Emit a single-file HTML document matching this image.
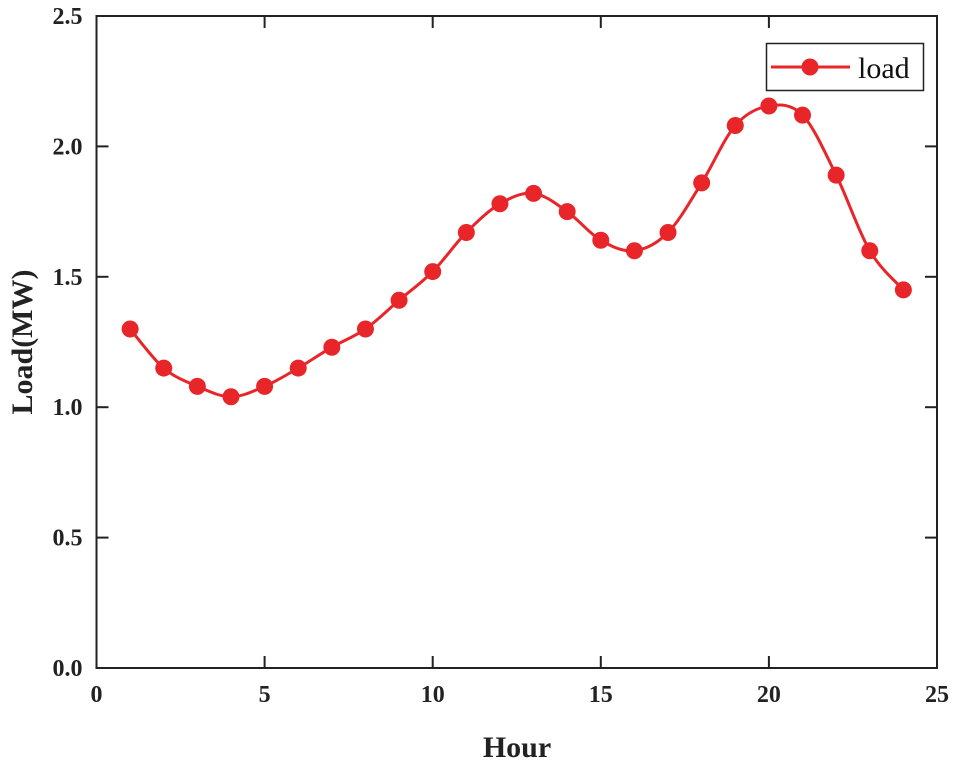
<!DOCTYPE html>
<html><head><meta charset="utf-8"><style>
html,body{margin:0;padding:0;background:#fff;}
svg text{font-family:"Liberation Serif",serif;}
</style></head><body>
<svg width="955" height="771" viewBox="0 0 955 771" xmlns="http://www.w3.org/2000/svg">
<g id="axes"></g>
<g id="series"></g>
<g>
<rect x="766.5" y="43.5" width="157" height="47" fill="#fff" stroke="#222" stroke-width="1.5"/>
<line x1="771" y1="67" x2="850" y2="67" stroke="#e8262a" stroke-width="3"/>
<circle cx="810" cy="67" r="8.5" fill="#e8262a"/>
<text x="858" y="78" font-size="30" fill="#111">load</text>
</g>
<text x="517" y="757" font-size="30" font-weight="bold" text-anchor="middle" fill="#222">Hour</text>
<text transform="translate(32,342) rotate(-90)" font-size="30" font-weight="bold" text-anchor="middle" fill="#222">Load(MW)</text>
</svg>
<script>
const hours=[1,2,3,4,5,6,7,8,9,10,11,12,13,14,15,16,17,18,19,20,21,22,23,24];
const loads=[1.30,1.15,1.08,1.04,1.08,1.15,1.23,1.30,1.41,1.52,1.67,1.78,1.82,1.75,1.64,1.60,1.67,1.86,2.08,2.155,2.12,1.89,1.60,1.45];
const xTicks=[0,5,10,15,20,25];
const yTicks=["0.0","0.5","1.0","1.5","2.0","2.5"];
const L=96.5,R=937,T=16,B=668;
const xs=v=>L+(v-0)/(25-0)*(R-L);
const ys=v=>B-(v-0)/(2.5-0)*(B-T);
const NS="http://www.w3.org/2000/svg";
function mk(tag,attrs,parent){const e=document.createElementNS(NS,tag);for(const k in attrs)e.setAttribute(k,attrs[k]);parent.appendChild(e);return e;}
const ax=document.getElementById('axes');
const frame=mk('rect',{x:L,y:T,width:R-L,height:B-T,fill:'none',stroke:'#222','stroke-width':2},ax);


xTicks.forEach(t=>{
  const x=xs(t);
  const l1=mk('line',{x1:x,y1:B,x2:x,y2:B-12,stroke:'#222','stroke-width':2},ax);
  
  
  const l2=mk('line',{x1:x,y1:T,x2:x,y2:T+12,stroke:'#222','stroke-width':2},ax);
  
  
  const tx=mk('text',{x:x,y:B+34,'font-size':24,'font-weight':'bold','text-anchor':'middle',fill:'#222'},ax);
  tx.textContent=t;
  
  
});
yTicks.forEach(t=>{
  const y=ys(parseFloat(t));
  const l1=mk('line',{x1:L,y1:y,x2:L+12,y2:y,stroke:'#222','stroke-width':2},ax);
  
  
  const l2=mk('line',{x1:R,y1:y,x2:R-12,y2:y,stroke:'#222','stroke-width':2},ax);
  
  
  const tx=mk('text',{x:L-14,y:y+8,'font-size':24,'font-weight':'bold','text-anchor':'end',fill:'#222'},ax);
  tx.textContent=t;
  
  
});
const sg=document.getElementById('series');
const P=hours.map((h,i)=>[xs(h),ys(loads[i])]);
let d='M'+P[0][0]+','+P[0][1];
for(let i=0;i<P.length-1;i++){
  const p0=P[i-1]||P[i],p1=P[i],p2=P[i+1],p3=P[i+2]||P[i+1];
  const c1=[p1[0]+(p2[0]-p0[0])/6,p1[1]+(p2[1]-p0[1])/6];
  const c2=[p2[0]-(p3[0]-p1[0])/6,p2[1]-(p3[1]-p1[1])/6];
  d+=' C'+c1+' '+c2+' '+p2;
}
const path=mk('path',{d:d,fill:'none',stroke:'#e8262a','stroke-width':3},sg);


P.forEach(p=>{
  const c=mk('circle',{cx:p[0],cy:p[1],r:8.5,fill:'#e8262a'},sg);
  
  
});
</script>
</body></html>
